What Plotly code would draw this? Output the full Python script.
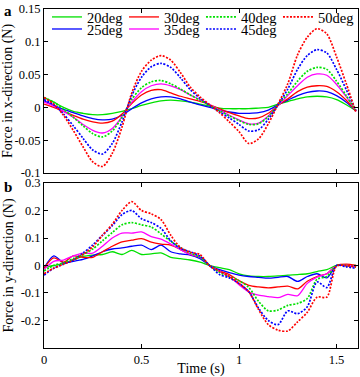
import plotly.graph_objects as go

# ---- data ----
time_s = [0.00, 0.05, 0.10, 0.15, 0.20, 0.25, 0.30, 0.35, 0.40, 0.45, 0.50,
          0.55, 0.60, 0.65, 0.70, 0.75, 0.80, 0.85, 0.90, 0.95, 1.00, 1.05,
          1.10, 1.15, 1.20, 1.25, 1.30, 1.35, 1.40, 1.45, 1.50, 1.55, 1.60]

labels = ["20deg", "25deg", "30deg", "35deg", "40deg", "45deg", "50deg"]

fx_20 = [0.015, 0.008, 0.000, -0.006, -0.009, -0.011, -0.011, -0.009, -0.006, -0.002, 0.003,
         0.007, 0.010, 0.011, 0.010, 0.008, 0.005, 0.002, -0.001, -0.002, -0.002, -0.002,
         -0.001, 0.000, 0.005, 0.009, 0.013, 0.016, 0.017, 0.016, 0.012, 0.004, -0.005]
fx_25 = [0.010, 0.003, -0.003, -0.008, -0.013, -0.017, -0.019, -0.018, -0.012, -0.002, 0.007,
         0.013, 0.016, 0.016, 0.013, 0.008, 0.004, 0.000, -0.004, -0.007, -0.009, -0.009,
         -0.008, -0.004, 0.004, 0.011, 0.018, 0.023, 0.025, 0.024, 0.018, 0.008, -0.005]
fx_30 = [0.005, 0.000, -0.006, -0.012, -0.018, -0.022, -0.024, -0.021, -0.010, 0.006, 0.019,
         0.026, 0.027, 0.022, 0.017, 0.013, 0.009, 0.004, -0.002, -0.008, -0.013, -0.017,
         -0.016, -0.009, 0.003, 0.013, 0.024, 0.031, 0.033, 0.032, 0.024, 0.011, -0.006]
fx_35 = [0.008, 0.002, -0.006, -0.015, -0.026, -0.035, -0.039, -0.032, -0.014, 0.008, 0.024,
         0.033, 0.036, 0.033, 0.027, 0.019, 0.012, 0.004, -0.004, -0.012, -0.019, -0.025,
         -0.024, -0.013, 0.003, 0.018, 0.033, 0.046, 0.051, 0.049, 0.035, 0.016, -0.006]
fx_40 = [0.015, 0.008, -0.003, -0.015, -0.028, -0.040, -0.045, -0.036, -0.015, 0.012, 0.030,
         0.039, 0.041, 0.036, 0.028, 0.019, 0.011, 0.003, -0.005, -0.013, -0.020, -0.026,
         -0.025, -0.014, 0.004, 0.021, 0.040, 0.055, 0.061, 0.058, 0.040, 0.018, -0.006]
fx_45 = [0.012, 0.004, -0.010, -0.028, -0.047, -0.065, -0.071, -0.055, -0.022, 0.018, 0.046,
         0.062, 0.067, 0.061, 0.045, 0.027, 0.014, 0.003, -0.007, -0.016, -0.026, -0.036,
         -0.034, -0.018, 0.004, 0.028, 0.058, 0.079, 0.088, 0.083, 0.058, 0.027, -0.005]
fx_50 = [0.015, 0.005, -0.012, -0.035, -0.060, -0.083, -0.090, -0.070, -0.030, 0.022, 0.055,
         0.072, 0.079, 0.072, 0.053, 0.031, 0.016, 0.004, -0.008, -0.022, -0.037, -0.055,
         -0.048, -0.025, 0.005, 0.036, 0.080, 0.107, 0.120, 0.112, 0.077, 0.036, -0.008]

fy_20 = [-0.008, 0.000, 0.007, 0.020, 0.033, 0.038, 0.040, 0.050, 0.040, 0.055, 0.040,
         0.042, 0.046, 0.030, 0.025, 0.020, 0.012, 0.000, -0.008, -0.015, -0.030, -0.038,
         -0.040, -0.040, -0.038, -0.035, -0.033, -0.030, -0.022, -0.015, 0.000, 0.000, 0.000]
fy_25 = [-0.010, 0.035, 0.010, 0.015, 0.022, 0.035, 0.050, 0.060, 0.064, 0.070, 0.074,
         0.058, 0.074, 0.050, 0.042, 0.038, 0.025, 0.000, -0.015, -0.026, -0.035, -0.040,
         -0.043, -0.046, -0.043, -0.040, -0.058, -0.040, -0.030, -0.045, 0.000, 0.000, -0.005]
fy_30 = [-0.010, 0.028, 0.012, 0.035, 0.030, 0.030, 0.050, 0.070, 0.086, 0.092, 0.098,
         0.085, 0.078, 0.074, 0.058, 0.040, 0.030, 0.000, -0.020, -0.033, -0.055, -0.072,
         -0.078, -0.081, -0.078, -0.075, -0.085, -0.057, -0.040, -0.030, 0.000, 0.005, 0.000]
fy_35 = [-0.015, 0.015, 0.020, 0.035, 0.045, 0.045, 0.070, 0.100, 0.118, 0.118, 0.122,
         0.105, 0.096, 0.078, 0.058, 0.040, 0.030, 0.000, -0.022, -0.040, -0.070, -0.097,
         -0.108, -0.113, -0.117, -0.105, -0.110, -0.065, -0.042, -0.030, 0.000, 0.000, -0.003]
fy_40 = [-0.020, 0.000, 0.010, 0.025, 0.040, 0.060, 0.090, 0.120, 0.148, 0.156, 0.148,
         0.140, 0.115, 0.088, 0.065, 0.045, 0.030, 0.000, -0.025, -0.040, -0.055, -0.080,
         -0.130, -0.165, -0.162, -0.145, -0.138, -0.120, -0.050, -0.040, 0.000, 0.000, -0.005]
fy_45 = [-0.035, -0.010, 0.005, 0.020, 0.045, 0.075, 0.110, 0.145, 0.185, 0.200, 0.170,
         0.156, 0.135, 0.090, 0.062, 0.050, 0.034, 0.000, -0.033, -0.045, -0.065, -0.095,
         -0.155, -0.200, -0.215, -0.165, -0.175, -0.150, -0.060, -0.080, 0.000, -0.005, -0.010]
fy_50 = [-0.030, -0.010, 0.005, 0.020, 0.040, 0.068, 0.110, 0.150, 0.200, 0.232, 0.200,
         0.188, 0.167, 0.110, 0.065, 0.048, 0.040, -0.002, -0.020, -0.040, -0.065, -0.095,
         -0.160, -0.215, -0.235, -0.238, -0.205, -0.170, -0.115, -0.115, -0.002, 0.000, -0.005]

fx_series = [fx_20, fx_25, fx_30, fx_35, fx_40, fx_45, fx_50]
fy_series = [fy_20, fy_25, fy_30, fy_35, fy_40, fy_45, fy_50]

colors = ["#00e000", "#0000ff", "#ff0000", "#ff00ff", "#00e000", "#0000ff", "#ff0000"]
dashes = ["solid", "solid", "solid", "solid", "2px,1.5px", "2px,1.5px", "2px,1.5px"]
widths = [1.3, 1.3, 1.3, 1.3, 1.7, 1.7, 1.7]
legend_rows = ["legend", "legend2", "legend", "legend2", "legend", "legend2", "legend"]

fx_ticks = [-0.1, -0.05, 0, 0.05, 0.1, 0.15]
fx_ticktext = ["-0.1", "-0.05", "0", "0.05", "0.1", "0.15"]
fy_ticks = [-0.2, -0.1, 0, 0.1, 0.2, 0.3]
fy_ticktext = ["-0.2", "-0.1", "0", "0.1", "0.2", "0.3"]
t_ticks = [0, 0.5, 1, 1.5]
t_ticktext = ["0", "0.5", "1", "1.5"]

FONT = "Liberation Serif"

fig = go.Figure()
for i in range(7):
    fig.add_trace(go.Scatter(
        x=time_s, y=fx_series[i], mode="lines", name=labels[i],
        line=dict(color=colors[i], width=widths[i], dash=dashes[i], shape="spline", smoothing=0.8),
        xaxis="x", yaxis="y", legend=legend_rows[i], showlegend=True))
for i in range(7):
    fig.add_trace(go.Scatter(
        x=time_s, y=fy_series[i], mode="lines", name=labels[i],
        line=dict(color=colors[i], width=widths[i], dash=dashes[i], shape="spline", smoothing=0.8),
        xaxis="x2", yaxis="y2", showlegend=False))

axis_common = dict(showline=True, linecolor="black", linewidth=1, mirror="ticks",
                   ticks="inside", ticklen=4, tickcolor="black", showgrid=False,
                   zeroline=False, automargin=False,
                   tickfont=dict(family=FONT, size=12.5, color="black"))

fig.update_layout(
    width=360, height=377, autosize=False,
    margin=dict(l=44, r=2, t=9, b=29, autoexpand=False),
    paper_bgcolor="white", plot_bgcolor="white",
    font=dict(family=FONT, color="black"),
    xaxis=dict(domain=[0, 1], range=[0, 1.61], anchor="y", tickvals=t_ticks,
               showticklabels=False, **axis_common),
    yaxis=dict(domain=[0.5162, 1], range=[-0.1, 0.15], anchor="x", tickvals=fx_ticks,
               ticktext=fx_ticktext,
               title=dict(text="Force in x-direction (N)", font=dict(family=FONT, size=14), standoff=3),
               **axis_common),
    xaxis2=dict(domain=[0, 1], range=[0, 1.61], anchor="y2", tickvals=t_ticks,
                ticktext=t_ticktext,
                title=dict(text="Time (s)", font=dict(family=FONT, size=14), standoff=4),
                **axis_common),
    yaxis2=dict(domain=[0, 0.4867], range=[-0.3, 0.3], anchor="x2", tickvals=fy_ticks,
                ticktext=fy_ticktext,
                title=dict(text="Force in y-direction (N)", font=dict(family=FONT, size=14), standoff=3),
                **axis_common),
    legend=dict(orientation="h", x=0.0095, y=1.0236, xanchor="left", yanchor="top",
                font=dict(family=FONT, size=14.5), itemwidth=30, entrywidth=32,
                entrywidthmode="pixels", bgcolor="rgba(0,0,0,0)", tracegroupgap=0),
    legend2=dict(orientation="h", x=0.0095, y=0.988, xanchor="left", yanchor="top",
                 font=dict(family=FONT, size=14.5), itemwidth=30, entrywidth=32,
                 entrywidthmode="pixels", bgcolor="rgba(0,0,0,0)", tracegroupgap=0),
    annotations=[
        dict(text="<b>a</b>", xref="paper", yref="paper", x=-0.135, y=0.995,
             xanchor="left", yanchor="middle", showarrow=False, font=dict(family=FONT, size=15)),
        dict(text="<b>b</b>", xref="paper", yref="paper", x=-0.135, y=0.475,
             xanchor="left", yanchor="middle", showarrow=False, font=dict(family=FONT, size=15)),
    ],
)

fig.write_html("out.html", config={"displayModeBar": False},
               post_script="document.body.style.margin='0';document.body.style.overflow='hidden';")
